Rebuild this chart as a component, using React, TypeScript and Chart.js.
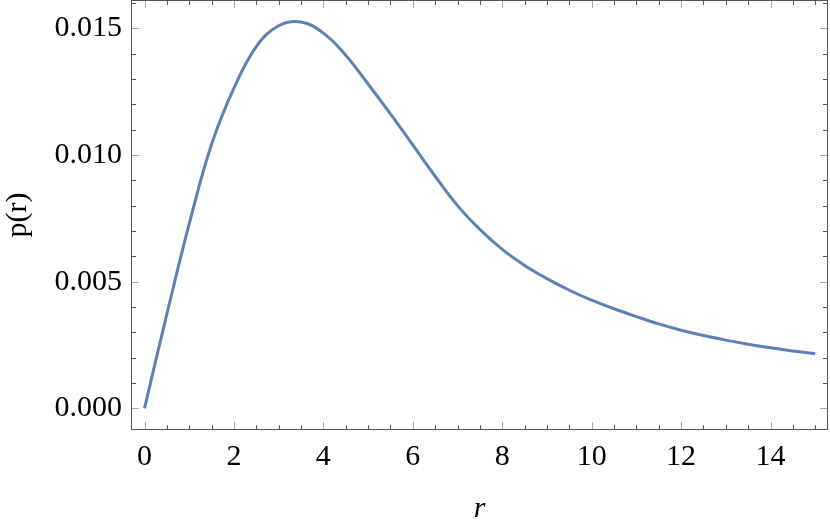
import { useEffect, useRef } from "react";
import { Chart, registerables } from "chart.js";

Chart.register(...registerables);

// Data
const rValues = [
  0, 0.5, 1.0, 1.5, 2.0, 2.5, 3.0, 3.5, 4.0, 4.5, 5.0, 5.5, 6.0, 6.5, 7.0, 7.5,
  8.0, 8.5, 9.0, 9.5, 10.0, 10.5, 11.0, 11.5, 12.0, 12.5, 13.0, 13.5, 14.0,
  14.5, 15.0,
];
const pValues = [
  0, 0.00372, 0.00728, 0.01042, 0.01264, 0.01428, 0.0151, 0.01525, 0.01481,
  0.01394, 0.0128, 0.01162, 0.0104, 0.00916, 0.008, 0.00706, 0.00627, 0.00564,
  0.00512, 0.00466, 0.00427, 0.00393, 0.00362, 0.00333, 0.00308, 0.00287,
  0.00269, 0.00253, 0.00239, 0.00226, 0.00215,
];

const xTickValues = [0, 2, 4, 6, 8, 10, 12, 14];
const yTickValues = [0, 0.005, 0.01, 0.015];
const xMinorStep = 0.5;
const yMinorStep = 0.001;
const xRange = [-0.302, 15.285];
const yRange = [-0.000857, 0.016117];

const xTitle = "r";
const yTitle = "p(r)";

const FONT = "'Liberation Serif', 'Times New Roman', serif";

const frameTicks = {
  id: "frameTicks",
  beforeDatasetsDraw(chart: any) {
    const { ctx, chartArea, scales } = chart;
    const { left, right, top, bottom } = chartArea;
    const x = scales.x;
    const y = scales.y;
    ctx.save();
    ctx.lineWidth = 1;
    const seg = (x1: number, y1: number, x2: number, y2: number) => {
      ctx.beginPath();
      ctx.moveTo(x1, y1);
      ctx.lineTo(x2, y2);
      ctx.stroke();
    };
    // x ticks (bottom and top)
    const xi0 = Math.ceil(x.min / xMinorStep);
    const xi1 = Math.floor(x.max / xMinorStep);
    for (let i = xi0; i <= xi1; i++) {
      const v = i * xMinorStep;
      const major = xTickValues.some((t) => Math.abs(t - v) < 1e-9);
      const px = Math.round(x.getPixelForValue(v)) + 0.5;
      const len = major ? 8 : 5;
      ctx.strokeStyle = major ? "#a6a6a6" : "#555555";
      seg(px, bottom, px, bottom - len);
      seg(px, top, px, top + len);
    }
    // y ticks (left and right)
    const yi0 = Math.ceil(y.min / yMinorStep - 1e-9);
    const yi1 = Math.floor(y.max / yMinorStep + 1e-9);
    for (let i = yi0; i <= yi1; i++) {
      const v = i * yMinorStep;
      const major = yTickValues.some((t) => Math.abs(t - v) < 1e-9);
      const py = Math.round(y.getPixelForValue(v)) + 0.5;
      const len = major ? 8 : 5;
      ctx.strokeStyle = major ? "#a6a6a6" : "#555555";
      seg(left, py, left + len, py);
      seg(right, py, right - len, py);
    }
    // frame
    ctx.strokeStyle = "#555555";
    ctx.strokeRect(left + 0.5, top + 0.5, right - left - 1, bottom - top - 1);
    ctx.restore();
  },
};

export default function App() {
  const canvasRef = useRef<HTMLCanvasElement | null>(null);

  useEffect(() => {
    document.body.style.margin = "0";
    const canvas = canvasRef.current;
    if (!canvas) return;
    const chart = new Chart(canvas, {
      type: "line",
      data: {
        datasets: [
          {
            data: rValues.map((r, i) => ({ x: r, y: pValues[i] })),
            borderColor: "#5E81B5",
            borderWidth: 3,
            pointRadius: 0,
            fill: false,
            tension: 0.4,
          },
        ],
      },
      options: {
        animation: false,
        responsive: true,
        maintainAspectRatio: false,
        layout: {
          autoPadding: false,
          padding: { top: 0, right: 2, left: 0, bottom: 0 },
        },
        plugins: {
          legend: { display: false },
          tooltip: { enabled: false },
        },
        scales: {
          x: {
            type: "linear",
            min: xRange[0],
            max: xRange[1],
            grid: { display: false, drawTicks: false },
            border: { display: false },
            afterBuildTicks: (scale: any) => {
              scale.ticks = xTickValues.map((v) => ({ value: v }));
            },
            afterFit: (scale: any) => {
              scale.height = 98;
              scale.paddingLeft = 0;
              scale.paddingRight = 0;
              scale.paddingTop = 0;
              scale.paddingBottom = 0;
            },
            ticks: {
              padding: 9,
              color: "#000",
              font: { family: FONT, size: 30 },
              maxRotation: 0,
              callback: (v: any) => String(v),
            },
            title: {
              display: true,
              text: xTitle,
              color: "#000",
              font: { family: FONT, size: 30, style: "italic" },
              padding: { top: 0, bottom: 1 },
            },
          },
          y: {
            type: "linear",
            min: yRange[0],
            max: yRange[1],
            grid: { display: false, drawTicks: false },
            border: { display: false },
            afterBuildTicks: (scale: any) => {
              scale.ticks = yTickValues.map((v) => ({ value: v }));
            },
            afterFit: (scale: any) => {
              scale.width = 131;
              scale.paddingLeft = 0;
              scale.paddingRight = 0;
              scale.paddingTop = 0;
              scale.paddingBottom = 0;
            },
            ticks: {
              padding: 9,
              color: "#000",
              font: { family: FONT, size: 30 },
              callback: (v: any) => Number(v).toFixed(3),
            },
            title: {
              display: true,
              text: yTitle,
              color: "#000",
              font: { family: FONT, size: 30 },
              padding: { top: 0, bottom: 0 },
            },
          },
        },
      },
      plugins: [frameTicks],
    } as any);
    return () => chart.destroy();
  }, []);

  return (
    <div style={{ width: 830, height: 528, position: "relative" }}>
      <canvas ref={canvasRef} />
    </div>
  );
}
